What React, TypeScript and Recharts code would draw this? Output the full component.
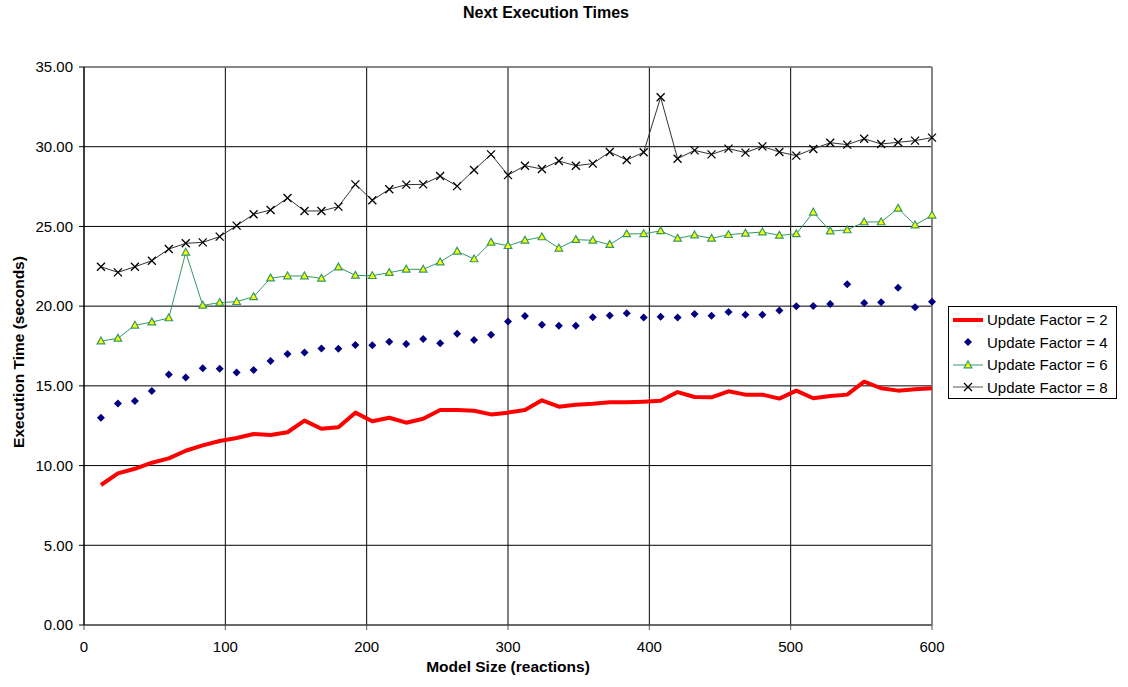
import React from 'react';
import { ComposedChart, Line, XAxis, YAxis, CartesianGrid, ReferenceLine } from 'recharts';

// model sizes (reactions)
const sizes = [
  12, 24, 36, 48, 60, 72, 84, 96, 108, 120,
  132, 144, 156, 168, 180, 192, 204, 216, 228, 240,
  252, 264, 276, 288, 300, 312, 324, 336, 348, 360,
  372, 384, 396, 408, 420, 432, 444, 456, 468, 480,
  492, 504, 516, 528, 540, 552, 564, 576, 588, 600,
];

const uf2 = [
  8.78, 9.51, 9.8, 10.18, 10.45, 10.93, 11.27, 11.54, 11.73, 11.98,
  11.92, 12.09, 12.82, 12.31, 12.4, 13.32, 12.78, 13.0, 12.69, 12.94,
  13.49, 13.49, 13.44, 13.21, 13.32, 13.49, 14.09, 13.69, 13.82, 13.88,
  13.97, 13.97, 14.01, 14.07, 14.61, 14.3, 14.28, 14.66, 14.45, 14.45,
  14.2, 14.7, 14.22, 14.36, 14.45, 15.26, 14.85, 14.7, 14.78, 14.85,
];

const uf4 = [
  13.0, 13.9, 14.05, 14.68, 15.72, 15.53, 16.1, 16.08, 15.83, 15.99,
  16.56, 17.0, 17.1, 17.35, 17.33, 17.56, 17.55, 17.77, 17.63, 17.94,
  17.67, 18.27, 17.88, 18.21, 19.03, 19.38, 18.84, 18.77, 18.77, 19.3,
  19.42, 19.55, 19.28, 19.34, 19.28, 19.51, 19.4, 19.63, 19.46, 19.46,
  19.72, 19.99, 20.01, 20.13, 21.37, 20.2, 20.24, 21.16, 19.93, 20.28,
];

const uf6 = [
  17.81, 17.98, 18.8, 19.0, 19.26, 23.38, 20.05, 20.22, 20.28, 20.59,
  21.76, 21.89, 21.89, 21.74, 22.45, 21.93, 21.91, 22.1, 22.31, 22.31,
  22.77, 23.44, 22.96, 24.0, 23.79, 24.13, 24.34, 23.63, 24.17, 24.13,
  23.86, 24.53, 24.54, 24.72, 24.25, 24.46, 24.25, 24.48, 24.57, 24.65,
  24.44, 24.53, 25.89, 24.71, 24.78, 25.28, 25.28, 26.13, 25.09, 25.7,
];

const uf8 = [
  22.47, 22.12, 22.47, 22.85, 23.58, 23.94, 24.0, 24.36, 25.05, 25.76,
  26.03, 26.78, 25.97, 25.97, 26.24, 27.64, 26.64, 27.33, 27.62, 27.64,
  28.16, 27.53, 28.54, 29.52, 28.22, 28.81, 28.6, 29.1, 28.81, 28.94,
  29.67, 29.17, 29.65, 33.1, 29.25, 29.77, 29.52, 29.88, 29.63, 30.02,
  29.67, 29.44, 29.86, 30.25, 30.13, 30.5, 30.17, 30.28, 30.38, 30.57,
];

const xTicks = [0, 100, 200, 300, 400, 500, 600];
const yTicks = [0, 5, 10, 15, 20, 25, 30, 35];

const seriesNames = ['Update Factor = 2', 'Update Factor = 4', 'Update Factor = 6', 'Update Factor = 8'];

const data = sizes.map((s, i) => ({ size: s, uf2: uf2[i], uf4: uf4[i], uf6: uf6[i], uf8: uf8[i] }));

const FONT = '"Liberation Sans", Arial, sans-serif';
const NAVY = '#000080';
const GREEN = '#339966';

const Diamond = ({ cx, cy }: any) => (
  <path d={`M${cx},${cy - 4}L${cx + 4},${cy}L${cx},${cy + 4}L${cx - 4},${cy}Z`} fill={NAVY} />
);

const Tri = ({ cx, cy }: any) => (
  <path
    d={`M${cx},${cy - 4}L${cx + 3.8},${cy + 2.8}L${cx - 3.8},${cy + 2.8}Z`}
    fill="#ffff00"
    stroke={GREEN}
    strokeWidth={1.2}
  />
);

const Cross = ({ cx, cy }: any) => (
  <path d={`M${cx - 4},${cy - 4}L${cx + 4},${cy + 4}M${cx + 4},${cy - 4}L${cx - 4},${cy + 4}`} stroke="#000" strokeWidth={1.3} />
);

const legendIcons = [
  <line key="a" x1={1} x2={31} y1={8} y2={8} stroke="#ff0000" strokeWidth={4} />,
  <g key="b"><Diamond cx={16} cy={8} /></g>,
  <g key="c"><line x1={1} x2={31} y1={8} y2={8} stroke={GREEN} /><Tri cx={16} cy={8} /></g>,
  <g key="d"><line x1={1} x2={31} y1={8} y2={8} stroke="#555" /><Cross cx={16} cy={8} /></g>,
];

const App = () => {
  return (
    <div style={{ position: 'absolute', left: 0, top: 0, width: 1128, height: 687, background: '#fff', fontFamily: FONT }}>
      <div style={{ position: 'absolute', left: 0, width: 1092, top: 4, textAlign: 'center', fontWeight: 'bold', fontSize: 16 }}>
        Next Execution Times
      </div>
      <ComposedChart width={1128} height={687} data={data} margin={{ top: 67, right: 196, bottom: 22, left: 14 }}>
        <CartesianGrid stroke="#000" strokeWidth={1} vertical horizontal />
        <XAxis
          dataKey="size"
          type="number"
          domain={[0, 600]}
          ticks={xTicks}
          height={40}
          tickSize={5}
          tickMargin={11}
          stroke="#555"
          tick={{ fill: '#000', fontSize: 15, fontFamily: FONT }}
        />
        <YAxis
          type="number"
          domain={[0, 35]}
          ticks={yTicks}
          width={70}
          tickSize={5}
          tickMargin={6}
          stroke="#000"
          tickFormatter={(v: number) => v.toFixed(2)}
          tick={{ fill: '#000', fontSize: 15, fontFamily: FONT }}
        />
        <ReferenceLine y={35} stroke="#888" strokeWidth={1.5} />
        <ReferenceLine x={600} stroke="#888" strokeWidth={1.5} />
        <Line dataKey="uf8" type="linear" stroke="#333" strokeWidth={1} isAnimationActive={false}
          dot={(p: any) => <Cross key={`x${p.index}`} cx={p.cx} cy={p.cy} />} activeDot={false} />
        <Line dataKey="uf6" type="linear" stroke={GREEN} strokeWidth={1} isAnimationActive={false}
          dot={(p: any) => <Tri key={`t${p.index}`} cx={p.cx} cy={p.cy} />} activeDot={false} />
        <Line dataKey="uf4" type="linear" stroke="none" strokeWidth={0} isAnimationActive={false}
          dot={(p: any) => <Diamond key={`d${p.index}`} cx={p.cx} cy={p.cy} />} activeDot={false} />
        <Line dataKey="uf2" type="linear" stroke="#ff0000" strokeWidth={4} strokeLinejoin="round" dot={false}
          isAnimationActive={false} activeDot={false} />
      </ComposedChart>
      <div style={{ position: 'absolute', left: 0, width: 1016, top: 658, textAlign: 'center', fontWeight: 'bold', fontSize: 15.5 }}>
        Model Size (reactions)
      </div>
      <div
        style={{
          position: 'absolute', left: 19, top: 352, width: 0, height: 0,
        }}
      >
        <div style={{ position: 'absolute', transform: 'translate(-50%, -50%) rotate(-90deg)', whiteSpace: 'nowrap', fontWeight: 'bold', fontSize: 15.5 }}>
          Execution Time (seconds)
        </div>
      </div>
      <div style={{ position: 'absolute', left: 948, top: 306, width: 167, height: 91, border: '1px solid #000', background: '#fff' }}>
        {seriesNames.map((n, i) => (
          <div key={n} style={{ position: 'absolute', left: 3, top: 4 + i * 22.5, height: 17, display: 'flex', alignItems: 'center', fontSize: 15, whiteSpace: 'nowrap' }}>
            <svg width={34} height={16} style={{ marginRight: 1 }}>{legendIcons[i]}</svg>
            {n}
          </div>
        ))}
      </div>
    </div>
  );
};

export default App;
